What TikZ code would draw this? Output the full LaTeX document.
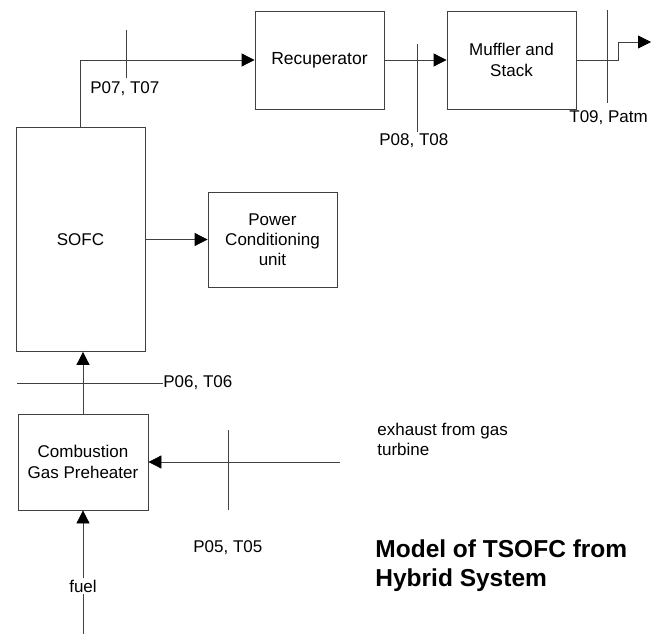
\documentclass[tikz,border=0pt]{standalone}
\usepackage{fontspec}
\setmainfont{Liberation Sans}
\usetikzlibrary{arrows.meta}

\begin{document}
\begin{tikzpicture}[x=1pt,y=-1pt,
    line width=0.8pt, draw=black!75,
    flow/.style={-{Triangle[length=13pt,width=13pt,black]}},
    box/.style={draw=black!75,minimum width=129pt,align=center,inner sep=2pt},
    lab/.style={anchor=west,inner sep=0pt,font=\fontsize{17}{20}\selectfont}]
\useasboundingbox (0,0) rectangle (651,636);
% units and blocks
\node[box,minimum height=224pt,font=\fontsize{17}{20}\selectfont] (sofc) at (80.5,239.5) {SOFC};
\node[box,minimum height=98pt,font=\fontsize{17.5}{20}\selectfont] (recup) at (319.5,60) {Recuperator};
\node[box,minimum height=98pt,font=\fontsize{17}{21}\selectfont] (muffler) at (511.5,60) {Muffler and\\Stack};
\node[box,minimum height=95pt,font=\fontsize{17}{20}\selectfont] (pcu) at (272.5,239.5) {Power\\Conditioning\\unit};
\node[box,minimum width=130pt,minimum height=96pt,font=\fontsize{17}{21}\selectfont] (preheat) at (83,462) {Combustion\\Gas Preheater};
% state labels
\node[lab] (t07) at (90,89) {P07, T07};
\node[lab] (t08) at (379,141) {P08, T08};
\node[lab] (t09) at (569,118) {T09, Patm};
\node[lab] (t06) at (163,383) {P06, T06};
\node[lab] (t05) at (193,548) {P05, T05};
\node[lab,anchor=north west,align=left] (exh) at (377,423) {exhaust from gas\\turbine};
\node[inner sep=1pt,font=\fontsize{17}{20}\selectfont] (fuel) at (83,586) {fuel};
\node[anchor=west,inner sep=0pt,align=left,font=\fontsize{24.5}{29}\selectfont\bfseries] (title) at (375,566) {Model of TSOFC from\\Hybrid System};
\coordinate (exit) at (651,42);
\coordinate (exhsrc) at (340,462);
\coordinate (fuelsrc) at (83,634);
% flows
\draw[flow] (sofc.north) |- (recup.west);
\draw[flow] (recup.east) -- (muffler.west);
\draw[flow] (muffler.east) -- ++(42,0) |- (exit);
\draw[flow] (sofc.east) -- (pcu.west);
\draw[flow] (preheat.north) -- (preheat.north |- sofc.south);
\draw[flow] (exhsrc) -- (preheat.east);
\draw (fuelsrc) -- (fuel);
\draw[flow] (fuel) -- (preheat.south);
% measuring points
\draw (126,30) -- (126,78);
\draw (417,44) -- (417,132);
\draw (607,10) -- (607,103);
\draw (17,383) -- (t06.west);
\draw (228,430) -- (228,510);
\end{tikzpicture}
\end{document}
